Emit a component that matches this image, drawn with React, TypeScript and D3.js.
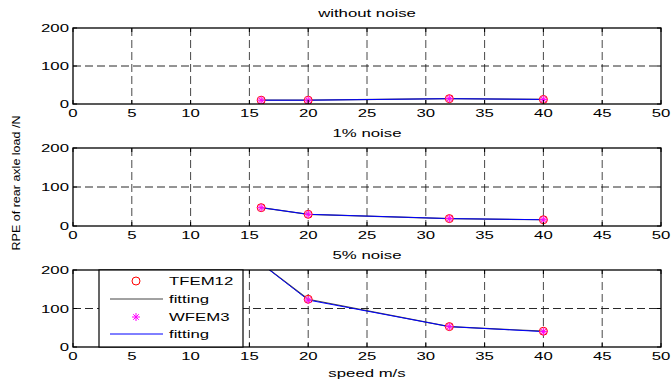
import React from 'react'
import * as d3 from 'd3'

const W = 671
const H = 385

// speeds where the estimates were made
const speeds = [16, 20, 32, 40]
// RPE values per noise level
const tfemNoNoise = [10, 10, 14, 12]
const wfemNoNoise = [10, 10, 14, 12]
const tfem1 = [47, 30, 19, 16]
const wfem1 = [47, 30, 19, 16]
const tfem5 = [217, 124, 53, 41]
const wfem5 = [217, 122, 53, 40]

const panelTitles = ['without noise', '1% noise', '5% noise']
const xTicks = [0, 5, 10, 15, 20, 25, 30, 35, 40, 45, 50]
const yTicks = [0, 100, 200]
const legendLabels = ['TFEM12', 'fitting', 'WFEM3', 'fitting']

const panels = [
  { title: panelTitles[0], tfem: tfemNoNoise, wfem: wfemNoNoise, top: 28, bottom: 104 },
  { title: panelTitles[1], tfem: tfem1, wfem: wfem1, top: 148, bottom: 226 },
  { title: panelTitles[2], tfem: tfem5, wfem: wfem5, top: 270, bottom: 347 },
]

const left = 73
const right = 661
const font = 'Liberation Sans, Arial, sans-serif'
const fs = 11.8
const sx = 1.42 // the picture's text is stretched sideways

const x = d3.scaleLinear().domain([0, 50]).range([left, right])

function T({ x, y, anchor = 'start', children }: { x: number; y: number; anchor?: string; children: React.ReactNode }) {
  return (
    <text transform={`translate(${x},${y}) scale(${sx},1)`} textAnchor={anchor}
      fontSize={fs} fontFamily={font}>{children}</text>
  )
}

function Star({ cx, cy }: { cx: number; cy: number }) {
  const r = 4
  return (
    <g stroke="#ff00ff" strokeWidth={1}>
      <line x1={cx - r} y1={cy} x2={cx + r} y2={cy} />
      <line x1={cx} y1={cy - r} x2={cx} y2={cy + r} />
      <line x1={cx - r * 0.7} y1={cy - r * 0.7} x2={cx + r * 0.7} y2={cy + r * 0.7} />
      <line x1={cx - r * 0.7} y1={cy + r * 0.7} x2={cx + r * 0.7} y2={cy - r * 0.7} />
    </g>
  )
}

function Panel({ p, idx }: { p: typeof panels[number]; idx: number }) {
  const y = d3.scaleLinear().domain([0, 200]).range([p.bottom, p.top])
  const line = d3
    .line<number>()
    .x((_, i) => x(speeds[i]))
    .y((d) => y(d))
  const clipId = `clip${idx}`
  const midX = (left + right) / 2
  return (
    <g>
      <defs>
        <clipPath id={clipId}>
          <rect x={left} y={p.top} width={right - left} height={p.bottom - p.top} />
        </clipPath>
      </defs>
      <rect x={left} y={p.top} width={right - left} height={p.bottom - p.top} fill="white" />
      {/* grid */}
      {xTicks.slice(1, -1).map((t) => (
        <line key={'gx' + t} x1={x(t)} x2={x(t)} y1={p.top} y2={p.bottom}
          stroke="#333" strokeWidth={0.9} strokeDasharray="8,4" />
      ))}
      {yTicks.slice(1, -1).map((t) => (
        <line key={'gy' + t} x1={left} x2={right} y1={y(t)} y2={y(t)}
          stroke="#111" strokeWidth={0.9} strokeDasharray="8,4" />
      ))}
      <g clipPath={`url(#${clipId})`}>
        <path d={line(p.tfem) || ''} fill="none" stroke="#444" strokeWidth={1.2} />
        <path d={line(p.wfem) || ''} fill="none" stroke="#0000ff" strokeWidth={1} />
        {p.tfem.map((v, i) => (
          <circle key={'c' + i} cx={x(speeds[i])} cy={y(v)} r={4} fill="#ffb0d0" fillOpacity={0.6}
            stroke="#ff0000" strokeWidth={1} />
        ))}
        {p.wfem.map((v, i) => (
          <Star key={'s' + i} cx={x(speeds[i])} cy={y(v)} />
        ))}
      </g>
      {/* ticks */}
      {xTicks.map((t) => (
        <g key={'tx' + t}>
          <line x1={x(t)} x2={x(t)} y1={p.bottom} y2={p.bottom - 4} stroke="black" />
          <line x1={x(t)} x2={x(t)} y1={p.top} y2={p.top + 4} stroke="black" />
          <T x={x(t)} y={p.bottom + 13} anchor="middle">{t}</T>
        </g>
      ))}
      {yTicks.map((t) => (
        <g key={'ty' + t}>
          <line x1={left} x2={left + 4} y1={y(t)} y2={y(t)} stroke="black" />
          <line x1={right} x2={right - 4} y1={y(t)} y2={y(t)} stroke="black" />
          <T x={left - 4} y={y(t) + 4} anchor="end">{t}</T>
        </g>
      ))}
      <rect x={left} y={p.top} width={right - left} height={p.bottom - p.top} fill="none" stroke="black" strokeWidth={1.3} />
      <T x={midX} y={p.top - 11} anchor="middle">{p.title}</T>
    </g>
  )
}

function Legend() {
  const lx = 99
  const lw = 144
  const top = 270
  const bottom = 347
  const rows = [281, 299, 317, 334]
  return (
    <g>
      <rect x={lx} y={top} width={lw} height={bottom - top} fill="white" stroke="black" strokeWidth={1.2} />
      <circle cx={136} cy={rows[0]} r={4} fill="none" stroke="#ff0000" />
      <T x={169} y={rows[0] + 4}>{legendLabels[0]}</T>
      <line x1={110} x2={163} y1={rows[1]} y2={rows[1]} stroke="#444" />
      <T x={169} y={rows[1] + 4}>{legendLabels[1]}</T>
      <Star cx={136} cy={rows[2]} />
      <T x={169} y={rows[2] + 4}>{legendLabels[2]}</T>
      <line x1={110} x2={163} y1={rows[3]} y2={rows[3]} stroke="#0000ff" />
      <T x={169} y={rows[3] + 4}>{legendLabels[3]}</T>
    </g>
  )
}

export default function App() {
  return (
    <svg width={W} height={H} style={{ position: 'absolute', left: 0, top: 0, background: 'white' }}>
      {panels.map((p, i) => (
        <Panel key={i} p={p} idx={i} />
      ))}
      <Legend />
      <T x={(left + right) / 2} y={377} anchor="middle">speed m/s</T>
      <text transform={`translate(20, 183) rotate(-90)`} textAnchor="middle" fontSize={11} fontFamily={font}
        textLength={135} lengthAdjust="spacingAndGlyphs">RPE of rear axle load /N</text>
    </svg>
  )
}
